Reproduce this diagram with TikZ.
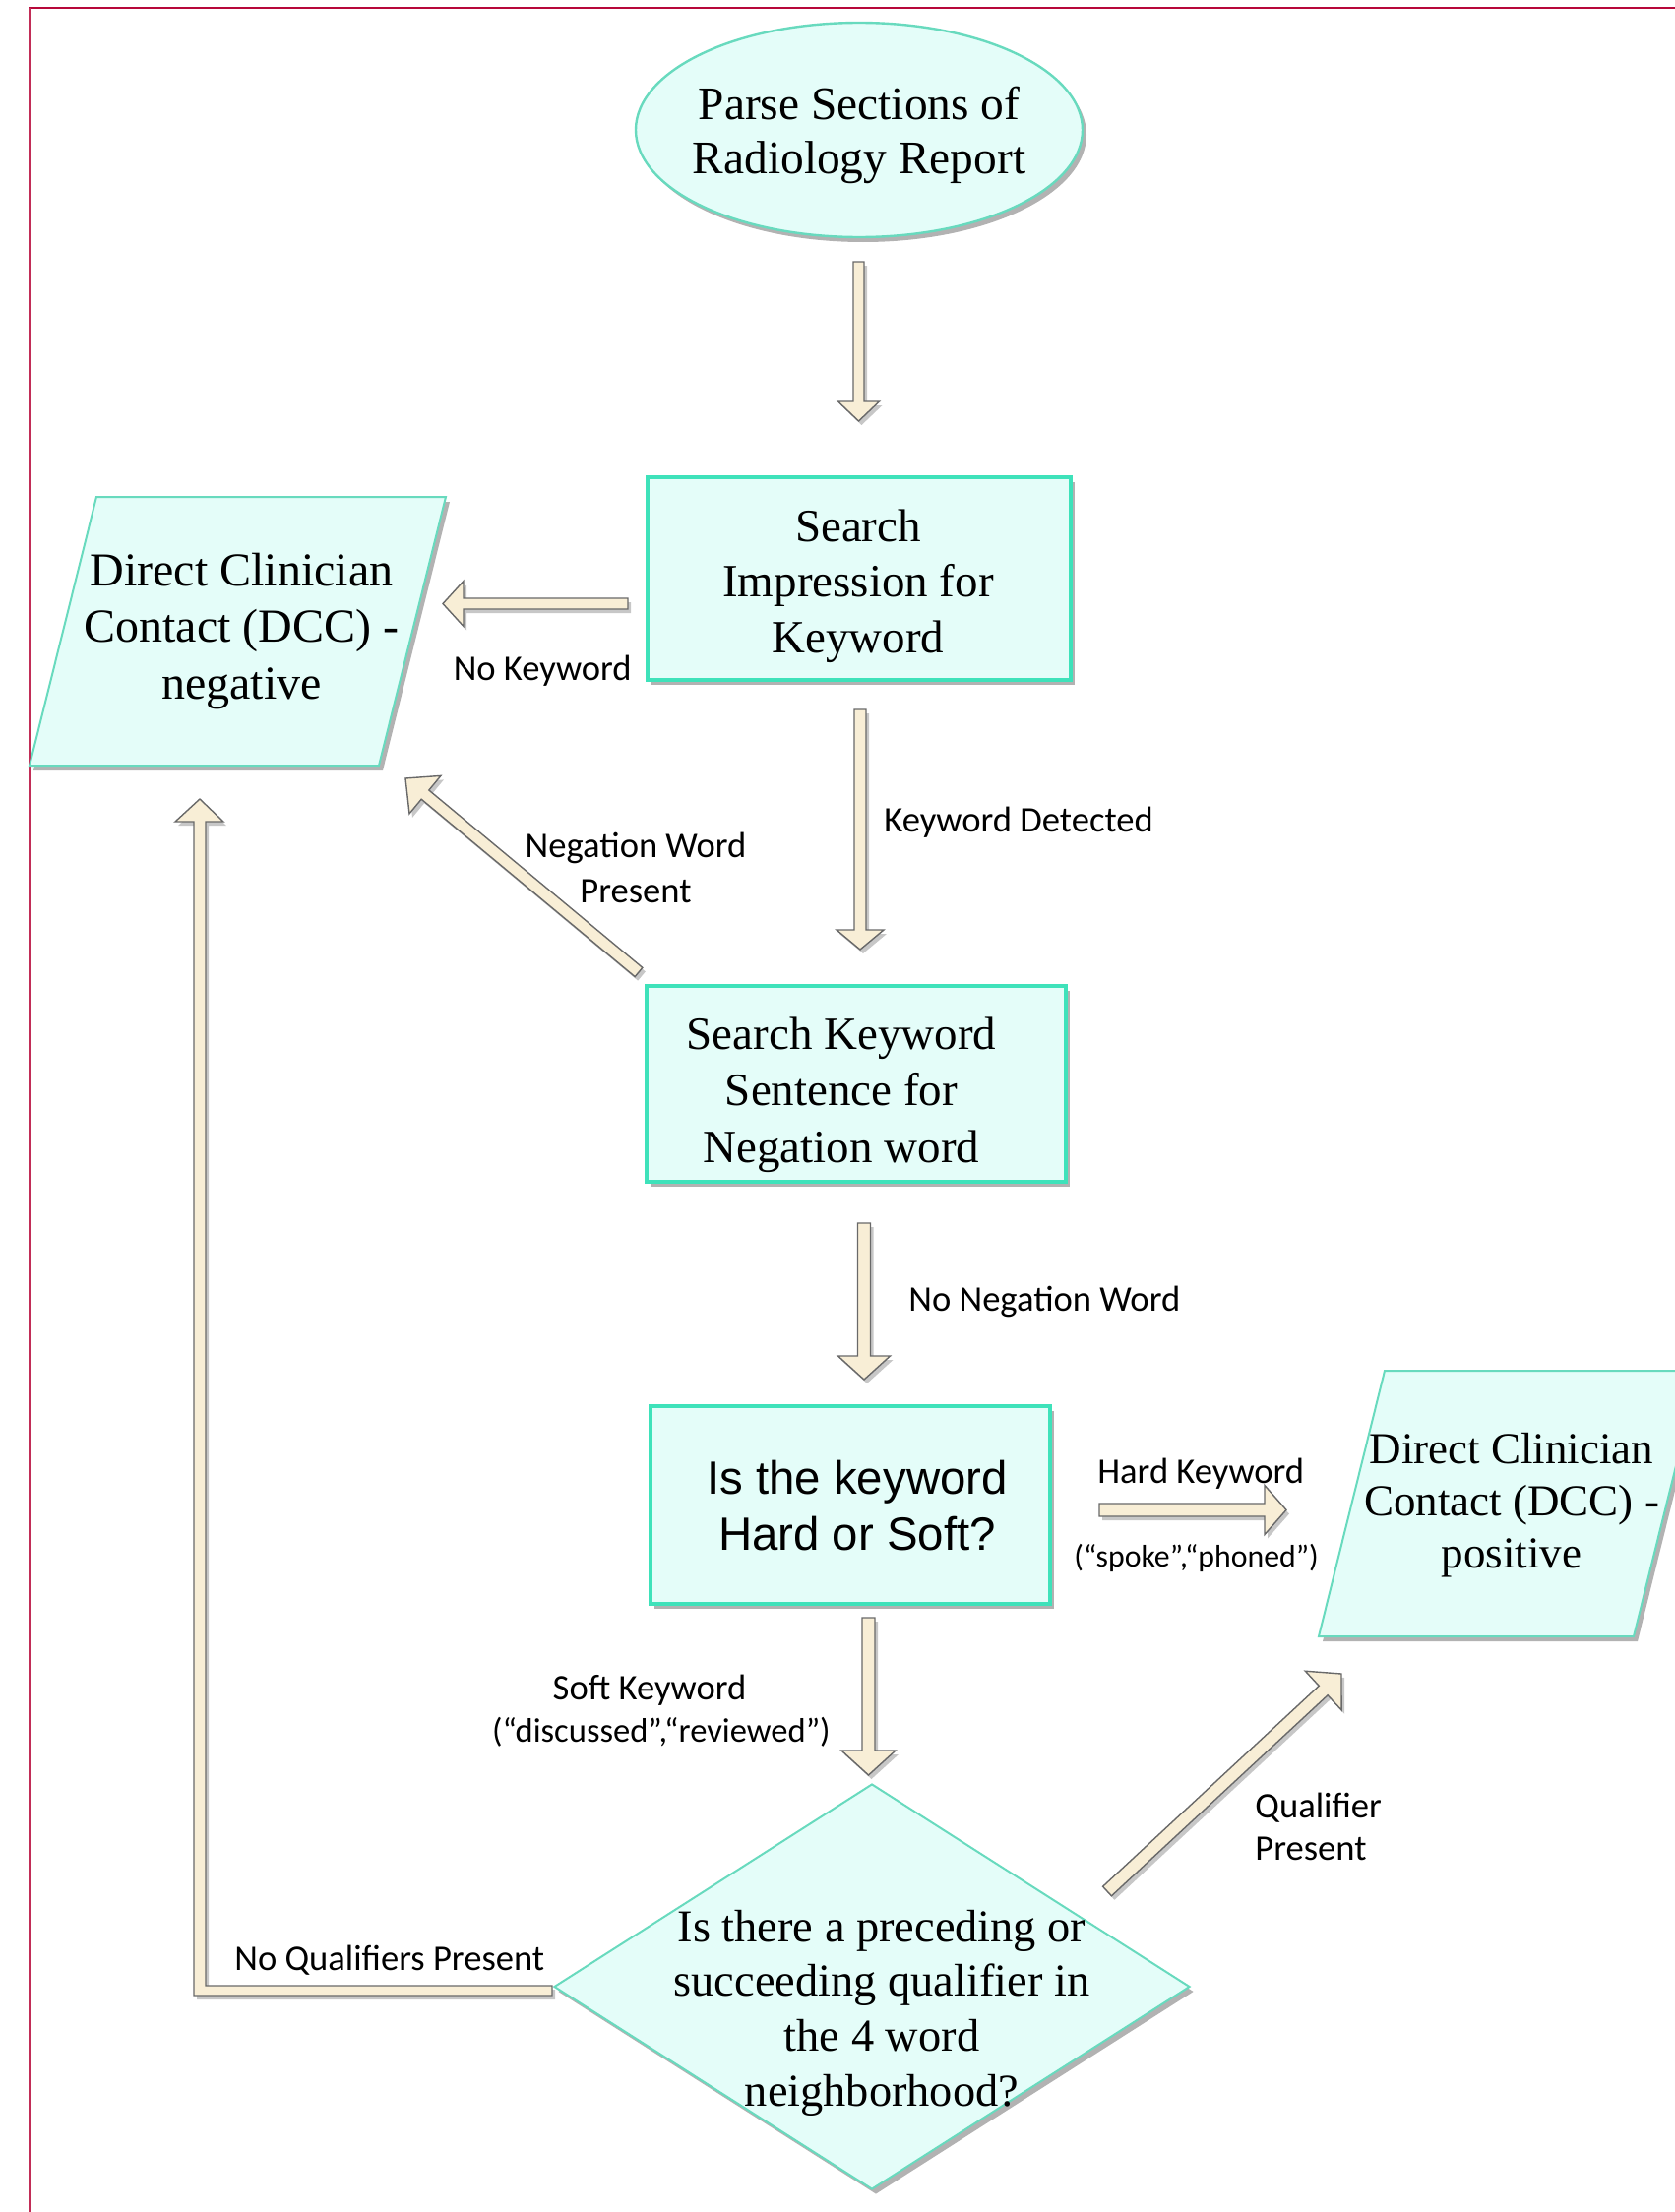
\documentclass[tikz,border=0pt]{standalone}
\usepackage{fontspec}
\setmainfont{Liberation Serif}
\newfontfamily\labfont{Carlito}
\newfontfamily\arialfont{Liberation Sans}
\usetikzlibrary{calc,shapes.geometric,shadows}

\definecolor{framec}{RGB}{183,8,58}
\definecolor{boxfill}{RGB}{228,253,249}
\definecolor{boxline}{RGB}{62,226,186}
\definecolor{ellline}{RGB}{104,218,190}
\definecolor{arrfill}{RGB}{248,238,214}
\definecolor{arrline}{RGB}{105,105,105}

\newcommand\ml[2][c]{\begin{tabular}[t]{@{}#1@{}}#2\end{tabular}}

% block arrow: #1 start, #2 tip, #3 half shaft width, #4 half head width, #5 head length
\newcommand\barrow[5]{%
  \coordinate (hb-#1) at ($(#2)!#5!(#1)$);
  \draw[blockarrow] ($(#1)!#3!90:(#2)$) -- ($(hb-#1)!#3!-90:(#1)$) --
    ($(hb-#1)!#4!-90:(#1)$) -- (#2) -- ($(hb-#1)!#4!90:(#1)$) --
    ($(hb-#1)!#3!90:(#1)$) -- ($(#1)!#3!-90:(#2)$) -- cycle;
}

\tikzset{
  shad/.style={drop shadow={shadow xshift=2pt,shadow yshift=-2.5pt,opacity=0.3,fill=black}},
  ashad/.style={drop shadow={shadow xshift=1.5pt,shadow yshift=-2pt,opacity=0.22,fill=black}},
  procbox/.style={rectangle, draw=boxline, line width=1.6pt, fill=boxfill, inner sep=0, shad},
  startell/.style={ellipse, draw=ellline, line width=1.2pt, fill=boxfill, inner sep=0, shad},
  pgram/.style={draw=ellline, line width=1pt, fill=boxfill, shad},
  decis/.style={diamond, draw=ellline, line width=1pt, fill=boxfill, inner sep=0, shad},
  blockarrow/.style={draw=arrline, line width=0.7pt, fill=arrfill, line join=miter, ashad},
  txt/.style={inner sep=0, anchor=base, text=black},
  lab/.style={inner sep=0, text=black, font=\labfont\fontsize{18.3}{23}\selectfont},
}

\begin{document}
\begin{tikzpicture}[x=0.5pt,y=-0.5pt]
\useasboundingbox (0,0) rectangle (1702,2248);
\clip (0,0) rectangle (1702,2248);

% frame
\draw[framec, line width=1pt] (29,8) -- (1702,8);
\draw[framec!85, line width=1pt] (30,8) -- (30,2248);

% start ellipse
\node[startell, minimum width=227pt, minimum height=109pt] (parse) at (873,132) {};
\node[txt, font=\fontsize{23.7}{27.5}\selectfont] (parsetxt) at (873,122) {\ml{Parse Sections of\\Radiology Report}};

% search impression
\node[procbox, minimum width=215pt, minimum height=103pt] (search) at (873,588) {};
\node[txt, font=\fontsize{23.5}{28.3}\selectfont] (searchtxt) at (872,550) {\ml{Search\\Impression for\\Keyword}};

% DCC negative
\draw[pgram] (98,505) -- (453,505) -- (385,778) -- (30,778) -- cycle;
\node[txt, font=\fontsize{24}{28.75}\selectfont] (negtxt) at (245.5,595) {\ml{Direct Clinician\\Contact (DCC) -\\negative}};

% search keyword sentence
\node[procbox, minimum width=213pt, minimum height=99.5pt] (skw) at (870,1101.5) {};
\node[txt, font=\fontsize{23.5}{28.8}\selectfont] (skwtxt) at (855,1066) {\ml{Search Keyword\\Sentence for\\Negation word}};

% hard or soft
\node[procbox, minimum width=203pt, minimum height=100.5pt] (hs) at (864,1529.5) {};
\node[txt, font=\arialfont\fontsize{23.7}{28.5}\selectfont] (hstxt) at (871,1518) {\ml{Is the keyword\\Hard or Soft?}};

% DCC positive
\draw[pgram] (1407,1393) -- (1727,1393) -- (1660,1663) -- (1340,1663) -- cycle;
\node[txt, font=\fontsize{22.5}{26.5}\selectfont] (postxt) at (1536,1487) {\ml{Direct Clinician\\Contact (DCC) -\\positive}};

% decision diamond
\node[decis, minimum width=323pt, minimum height=206pt] (dia) at (886,2019) {};
\node[txt, font=\fontsize{23.2}{27.9}\selectfont] (diatxt) at (896,1973) {\ml{Is there a preceding or\\succeeding qualifier in\\the 4 word\\neighborhood?}};

% arrow end points
\coordinate (a1s) at (872.5,266);  \coordinate (a1e) at (872.5,428);
\coordinate (a2s) at (638,613.5);  \coordinate (a2e) at (450,613.5);
\coordinate (a3s) at (874,721);    \coordinate (a3e) at (874,965);
\coordinate (a4s) at (649,988);    \coordinate (a4e) at (412,791);
\coordinate (a5s) at (878,1243);   \coordinate (a5e) at (878,1402);
\coordinate (a6s) at (1117,1534.5);\coordinate (a6e) at (1307,1534.5);
\coordinate (a7s) at (882.5,1644); \coordinate (a7e) at (882.5,1804);
\coordinate (a8s) at (1125,1922);  \coordinate (a8e) at (1363,1701);

\barrow{a1s}{a1e}{2.75pt}{10.5pt}{10pt}
\barrow{a2s}{a2e}{2.75pt}{11.5pt}{10.5pt}
\barrow{a3s}{a3e}{3pt}{12pt}{10pt}
\barrow{a4s}{a4e}{3pt}{12.5pt}{13pt}
\barrow{a5s}{a5e}{3.25pt}{13.25pt}{12pt}
\barrow{a6s}{a6e}{3.25pt}{12.5pt}{11pt}
\barrow{a7s}{a7e}{3.25pt}{13.75pt}{12.5pt}
\barrow{a8s}{a8e}{3.25pt}{13.5pt}{12.5pt}

% L-shaped arrow: no qualifiers
\coordinate (lst) at (561,2023);
\coordinate (ltip) at (203,812);
\draw[blockarrow] ($(lst)+(0,-5)$) -- ($(ltip|-lst)+(6,-5)$) -- ($(ltip)+(6,23)$) --
  ($(ltip)+(24,23)$) -- (ltip) -- ($(ltip)+(-25,23)$) -- ($(ltip)+(-6,23)$) --
  ($(ltip|-lst)+(-6,5)$) -- ($(lst)+(0,5)$) -- cycle;

% labels
\node[lab, anchor=base east] (lnokw) at (642,691) {No Keyword};
\node[lab, anchor=base west] (lkwd) at (898,845) {Keyword Detected};
\node[lab, anchor=base] (lneg) at (646,871) {\ml{Negation Word\\Present}};
\node[lab, anchor=base west] (lnoneg) at (923,1332) {No Negation Word};
\node[lab, anchor=base west] (lhard) at (1115,1507) {Hard Keyword};
\node[lab, anchor=base west, font=\labfont\fontsize{15.9}{18}\selectfont] (lhard2) at (1091,1592) {(“spoke”,“phoned”)};
\node[lab, anchor=base] (lsoft) at (660,1727) {Soft Keyword};
\node[lab, anchor=base, font=\labfont\fontsize{17.3}{20}\selectfont] (lsoft2) at (672,1770) {(“discussed”,“reviewed”)};
\node[lab, anchor=base west, font=\labfont\fontsize{18.3}{21.5}\selectfont] (lqual) at (1275,1847) {\ml[l]{Qualifier\\Present}};
\node[lab, anchor=base west] (lnoq) at (238,2002) {No Qualifiers Present};
\end{tikzpicture}
\end{document}
